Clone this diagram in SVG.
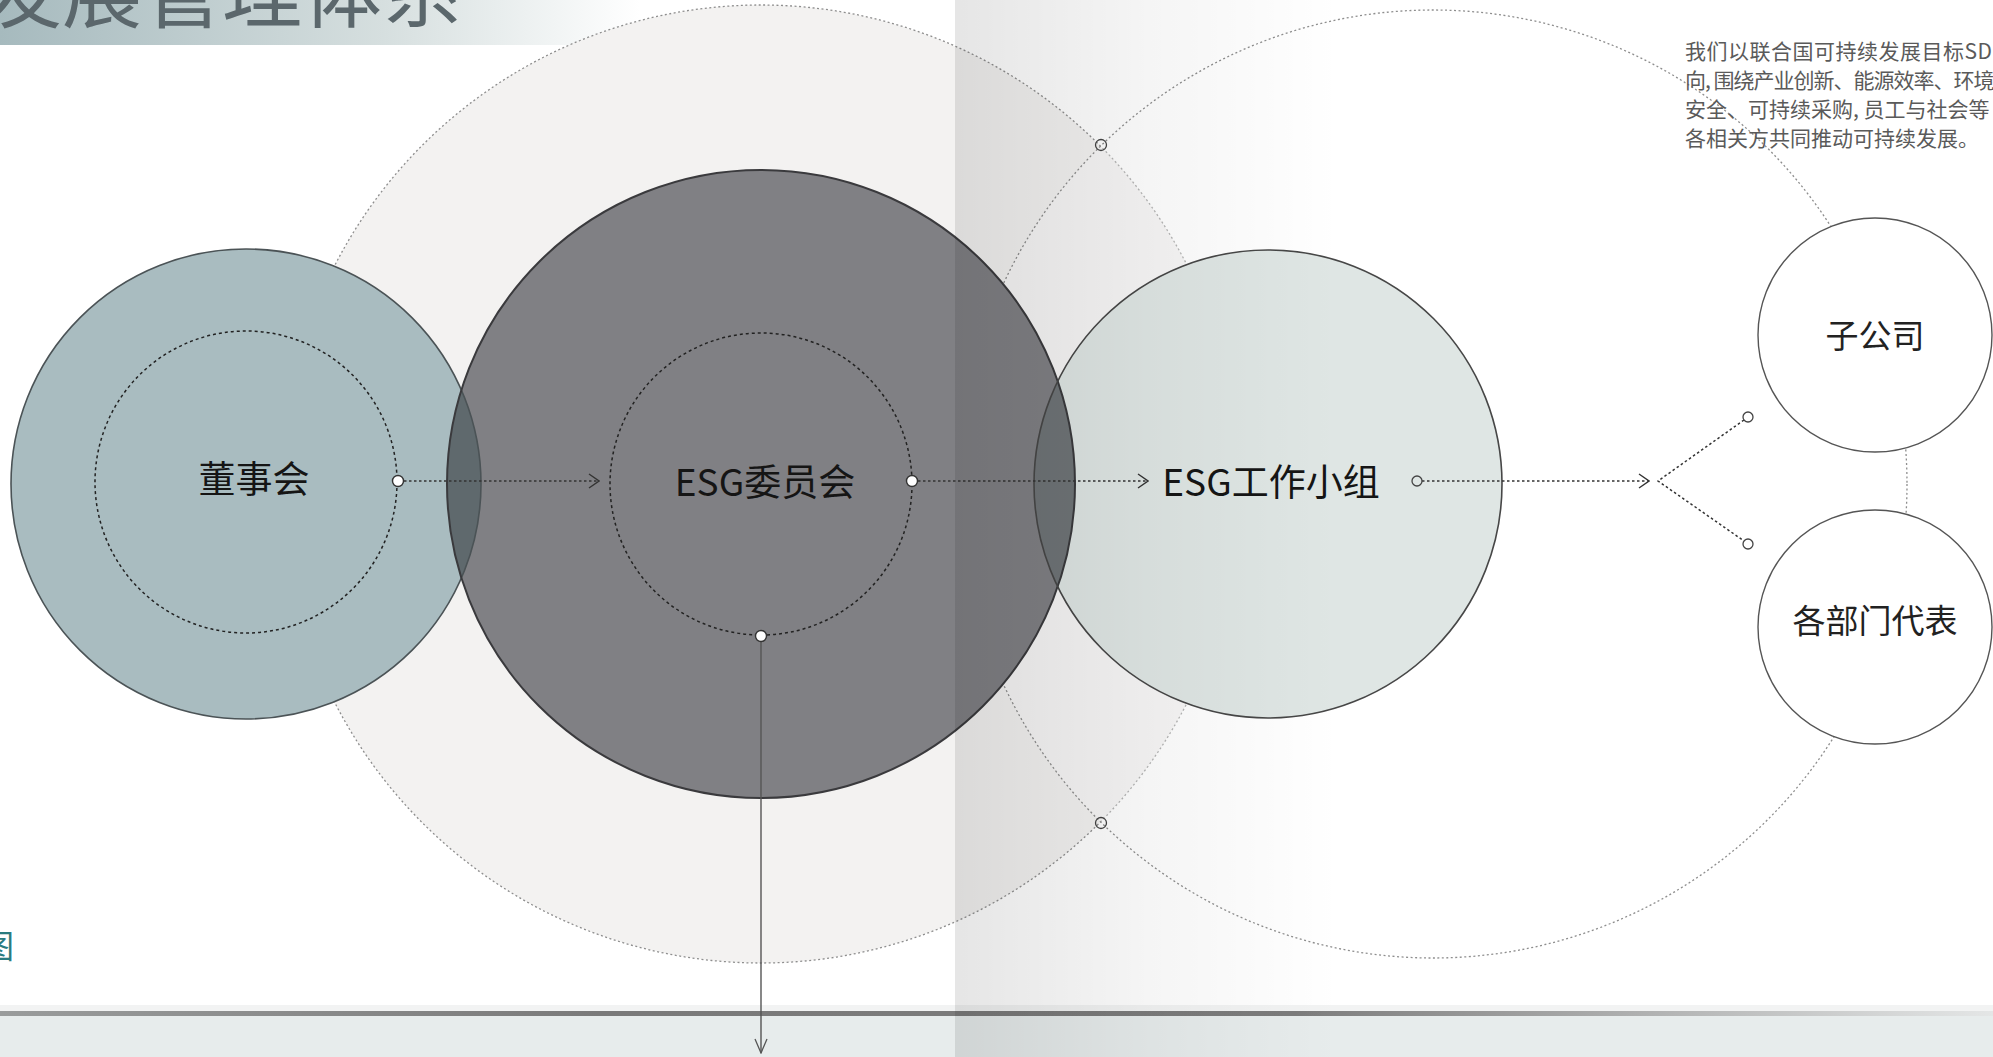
<svg xmlns="http://www.w3.org/2000/svg" width="1993" height="1057" viewBox="0 0 1993 1057">
<defs>
<linearGradient id="titleBand" x1="0" y1="0" x2="1" y2="0">
<stop offset="0" stop-color="#a6babe"/>
<stop offset="0.6" stop-color="#d6dfdf"/>
<stop offset="1" stop-color="#ffffff"/>
</linearGradient>
<linearGradient id="fold" x1="955" y1="0" x2="1340" y2="0" gradientUnits="userSpaceOnUse">
<stop offset="0" stop-color="#000" stop-opacity="0.1"/>
<stop offset="0.5" stop-color="#000" stop-opacity="0.04"/>
<stop offset="1" stop-color="#000" stop-opacity="0"/>
</linearGradient>
<linearGradient id="rule" x1="0" y1="0" x2="1" y2="0">
<stop offset="0" stop-color="#9a9c9c"/>
<stop offset="0.3" stop-color="#7a7a7a"/>
<stop offset="0.65" stop-color="#7c7c7c"/>
<stop offset="1" stop-color="#e4e6e6"/>
</linearGradient>
<clipPath id="clipBoard"><circle cx="246" cy="484" r="235"/></clipPath>
<clipPath id="clipGroup"><circle cx="1268" cy="484" r="234"/></clipPath>
<marker id="chev" viewBox="0 0 12 16" refX="11" refY="8" markerWidth="12" markerHeight="16" markerUnits="userSpaceOnUse" orient="auto">
<path d="M1,1 L11,8 L1,15" fill="none" stroke="#333" stroke-width="1.4"/>
</marker>
<marker id="vArrow" viewBox="0 0 14 16" refX="7" refY="15" markerWidth="14" markerHeight="16" markerUnits="userSpaceOnUse" orient="0">
<path d="M1,1 L7,15 L13,1" fill="none" stroke="#555" stroke-width="1.3"/>
</marker>
</defs>
<style>
.cjk{font-family:"Noto Sans CJK SC","Noto Sans",sans-serif;}
.big{stroke:#8e8e8e;stroke-width:1.3;stroke-dasharray:2 2.5;}
.inner{fill:none;stroke:#222;stroke-width:1.5;stroke-dasharray:3 3;}
.lbl{font-size:37px;fill:#151515;text-anchor:middle;dominant-baseline:central;}
.sub{font-size:33px;fill:#222;text-anchor:middle;dominant-baseline:central;}
.dot{fill:none;stroke:#333;stroke-width:1.5;stroke-dasharray:2.5 2.5;}
.pin{fill:#fff;stroke:#333;stroke-width:1.4;}
.ring{fill:none;stroke:#444;stroke-width:1.3;}
.para{font-size:21px;fill:#5a5a5a;}
</style>
<rect width="1993" height="1057" fill="#fff"/>
<!-- title band -->
<rect x="0" y="0" width="640" height="45" fill="url(#titleBand)"/>
<text class="cjk" x="462" y="21" font-size="80" fill="#5b676c" text-anchor="end">发展管理体系</text>
<!-- large background circles -->
<g id="bg-circles">
<circle cx="761" cy="484" r="479" fill="#f3f2f1" class="big"/>
<circle cx="1433" cy="484" r="474" fill="#ffffff" fill-opacity="0.35" class="big"/>
</g>
<!-- bottom band -->
<rect x="0" y="1016" width="1993" height="41" fill="#e7ecec"/>
<rect x="0" y="1005" width="1993" height="7" fill="#f2f3f3"/>
<rect x="0" y="1011" width="1993" height="5" fill="url(#rule)"/>
<!-- nodes -->
<g id="node-board">
<circle cx="246" cy="484" r="235" fill="#a9bcc0"/>
</g>
<g id="node-committee">
<circle cx="761" cy="484" r="314" fill="#808084"/>
<circle cx="761" cy="484" r="314" fill="#5f696d" clip-path="url(#clipBoard)"/>
</g>
<g id="node-group">
<circle cx="1268" cy="484" r="234" fill="#dfe6e4"/>
<circle cx="761" cy="484" r="314" fill="#6f7477" clip-path="url(#clipGroup)"/>
</g>
<g id="outlines" fill="none">
<circle cx="246" cy="484" r="235" stroke="#4b5356" stroke-width="1.6"/>
<circle cx="761" cy="484" r="314" stroke="#3a3a3d" stroke-width="2"/>
<circle cx="1268" cy="484" r="234" stroke="#474747" stroke-width="1.6"/>
</g>
<g id="inner-rings">
<circle cx="246" cy="482" r="151" class="inner"/>
<circle cx="761" cy="484" r="151" class="inner"/>
</g>
<g id="node-subsidiary">
<circle cx="1875" cy="335" r="117" fill="#fff" stroke="#555" stroke-width="1.4"/>
</g>
<g id="node-departments">
<circle cx="1875" cy="627" r="117" fill="#fff" stroke="#555" stroke-width="1.4"/>
</g>
<!-- connectors -->
<g id="connectors">
<line x1="404" y1="481" x2="599" y2="481" class="dot" marker-end="url(#chev)"/>
<line x1="918" y1="481" x2="1148" y2="481" class="dot" marker-end="url(#chev)"/>
<line x1="1422" y1="481" x2="1649" y2="481" class="dot" marker-end="url(#chev)"/>
<polyline points="1744,420 1658,481 1744,541" class="dot"/>
<line x1="761" y1="641" x2="761" y2="1053" stroke="#555" stroke-width="1.4" marker-end="url(#vArrow)"/>
<circle cx="398" cy="481" r="5.5" class="pin"/>
<circle cx="912" cy="481" r="5.5" class="pin"/>
<circle cx="761" cy="636" r="5.5" class="pin"/>
<circle cx="1417" cy="481" r="5" class="ring"/>
<circle cx="1748" cy="417" r="5" class="ring"/>
<circle cx="1748" cy="544" r="5" class="ring"/>
<circle cx="1101" cy="145" r="5.5" class="ring"/>
<circle cx="1101" cy="823" r="5.5" class="ring"/>
</g>
<!-- page fold shadow -->
<rect x="955" y="0" width="1038" height="1057" fill="url(#fold)"/>
<!-- labels -->
<text class="cjk lbl" x="254" y="477">董事会</text>
<text class="cjk lbl" x="765" y="480" font-size="38">ESG委员会</text>
<text class="cjk lbl" x="1271" y="480" font-size="38">ESG工作小组</text>
<text class="cjk sub" x="1875" y="334">子公司</text>
<text class="cjk sub" x="1875" y="619">各部门代表</text>
<g class="cjk para">
<text x="1685" y="59" letter-spacing="0.5">我们以联合国可持续发展目标SD</text>
<text x="1685" y="88" letter-spacing="-1">向, 围绕产业创新、能源效率、环境</text>
<text x="1685" y="117">安全、可持续采购, 员工与社会等</text>
<text x="1685" y="146">各相关方共同推动可持续发展。</text>
</g>
<text class="cjk" x="-18" y="958" font-size="32" fill="#2a7b7f">图</text>
</svg>
